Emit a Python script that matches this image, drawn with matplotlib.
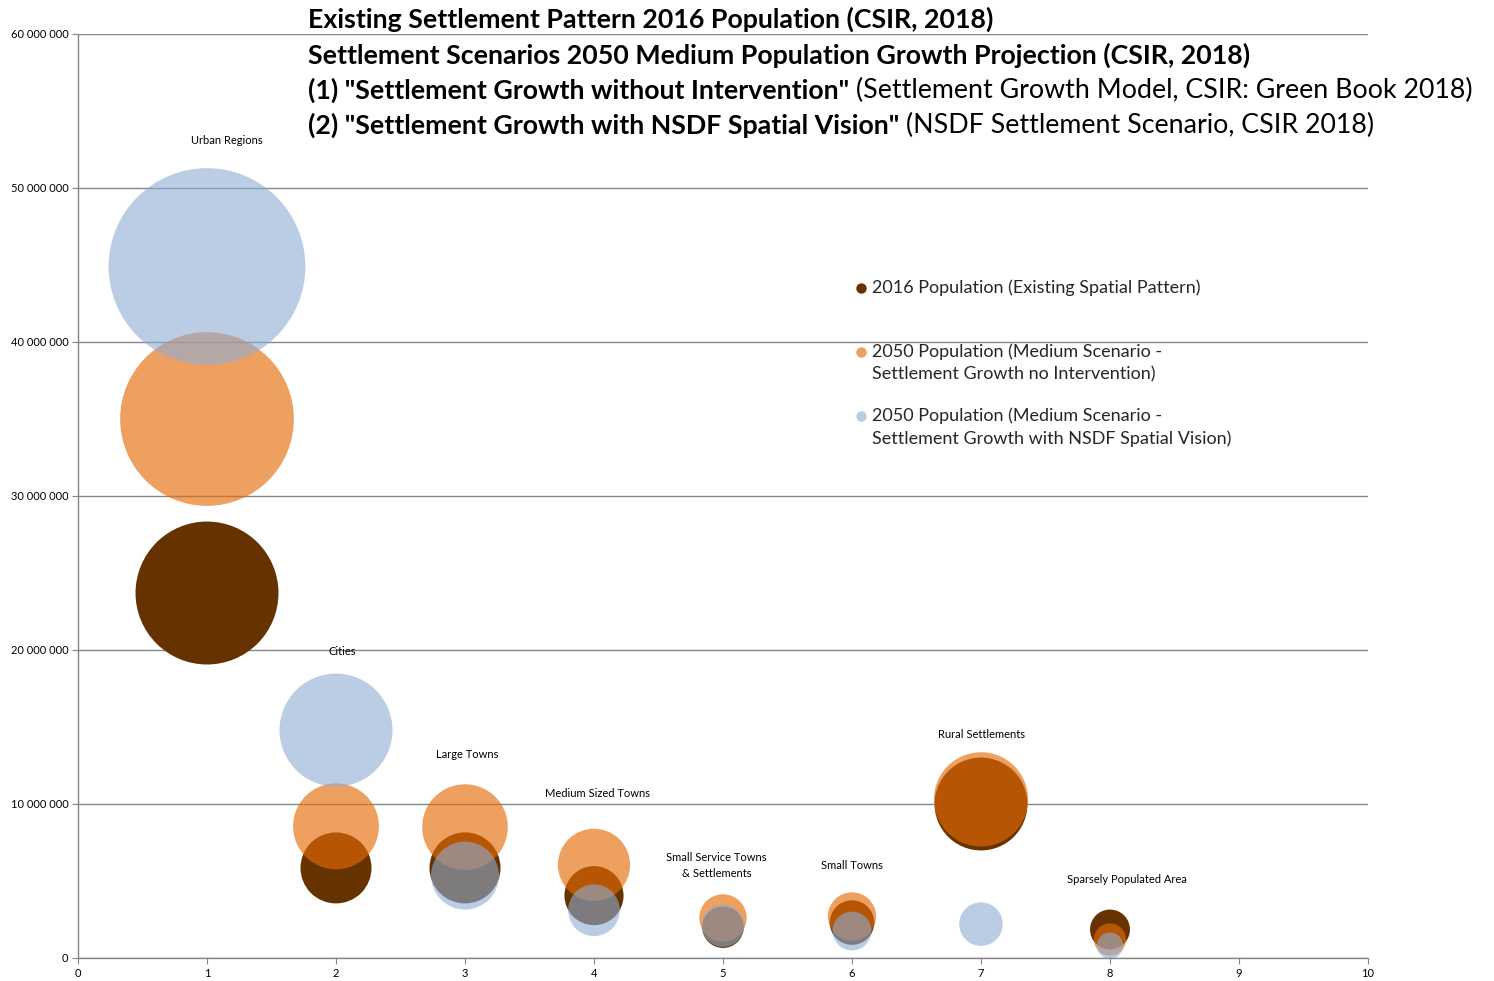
import matplotlib.pyplot as plt
from matplotlib.ticker import FuncFormatter

# settlement categories (x = category number)
categories = [1, 2, 3, 4, 5, 6, 7, 8]
labels = ["Urban Regions", "Cities", "Large Towns", "Medium Sized Towns",
          "Small Service Towns\n& Settlements", "Small Towns",
          "Rural Settlements", "Sparsely Populated Area"]
label_x = [1.15, 2.05, 3.02, 4.03, 4.95, 6.0, 7.0, 8.13]
label_y = [53.1, 19.9, 13.2, 10.7, 6.0, 6.0, 14.5, 5.1]

# population in millions
pop_2016 = [23.7, 5.85, 5.85, 4.05, 2.0, 2.3, 10.0, 1.85]
pop_2050_growth = [35.0, 8.55, 8.5, 6.05, 2.6, 2.7, 10.3, 1.2]
pop_2050_nsdf = [44.9, 14.8, 5.35, 3.1, 2.1, 1.75, 2.2, 0.8]

plt.rcParams['font.family'] = ['Lato', 'DejaVu Sans']

fig = plt.figure(figsize=(14.94, 9.81), dpi=100)
ax = fig.add_axes([78/1494, 23/981, 1290/1494, 924/981])

k = 447  # marker area (pt^2) per million people

def mil(v):
    return [p * 1e6 for p in v]

ax.scatter(categories, mil(pop_2016), s=[p * k for p in pop_2016],
           color='#663300', linewidths=0, zorder=3)
ax.scatter(categories, mil(pop_2050_growth), s=[p * k for p in pop_2050_growth],
           color='#e46b07', alpha=0.64, linewidths=0, zorder=4)
ax.scatter(categories, mil(pop_2050_nsdf), s=[p * k for p in pop_2050_nsdf],
           color='#8eacd4', alpha=0.6, linewidths=0, zorder=5)

for lx, ly, lab in zip(label_x, label_y, labels):
    ax.text(lx, ly * 1e6, lab, ha='center', va='center', fontsize=8,
            linespacing=1.5, zorder=6)

ax.set_xlim(0, 10)
ax.set_ylim(0, 60e6)
ax.set_xticks(range(0, 11))
ax.set_yticks([i * 10e6 for i in range(7)])
ax.yaxis.set_major_formatter(FuncFormatter(lambda v, p: f"{int(v):,}".replace(",", " ")))
ax.tick_params(axis='both', direction='out', length=4, color='#868686',
               labelsize=8, pad=3)
ax.yaxis.grid(True, color='#868686', lw=1)
ax.set_axisbelow(True)
for side in ['top', 'right']:
    ax.spines[side].set_visible(False)
for side in ['left', 'bottom']:
    ax.spines[side].set_color('#868686')
    ax.spines[side].set_linewidth(1)

# legend
leg_items = [("#663300", 1.0, 0.725, ["2016 Population (Existing Spatial Pattern)"]),
             ("#e46b07", 0.64, 0.656, ["2050 Population (Medium Scenario -",
                                       "Settlement Growth no Intervention)"]),
             ("#8eacd4", 0.6, 0.5866, ["2050 Population (Medium Scenario -",
                                       "Settlement Growth with NSDF Spatial Vision)"])]
line_step = 23 / 924
for col, a, yy, lines in leg_items:
    ax.plot([0.607], [yy], 'o', color=col, alpha=a, markersize=7.5, mec='none',
            transform=ax.transAxes, clip_on=False)
    for i, txt in enumerate(lines):
        ax.text(0.6155, yy - i * line_step, txt, transform=ax.transAxes,
                ha='left', va='center', fontsize=13, color='#262626')

# titles
tx = 308 / 1494
title_lines = [
    (19, "Existing Settlement Pattern 2016 Population (CSIR, 2018)", None),
    (55, "Settlement Scenarios 2050 Medium Population Growth Projection (CSIR, 2018)", None),
    (90, '(1) "Settlement Growth without Intervention"', " (Settlement Growth Model, CSIR: Green Book 2018)"),
    (125, '(2) "Settlement Growth with NSDF Spatial Vision"', " (NSDF Settlement Scenario, CSIR 2018)"),
]
for py, bold, rest in title_lines:
    t = fig.text(tx, 1 - py / 981, bold, fontsize=19.3, fontweight='bold',
                 ha='left', va='center')
    if rest:
        ax.annotate(rest, xy=(1, 0), xycoords=t, ha='left', va='bottom',
                    fontsize=19.3, annotation_clip=False)

fig.savefig("out.png", dpi=100)
